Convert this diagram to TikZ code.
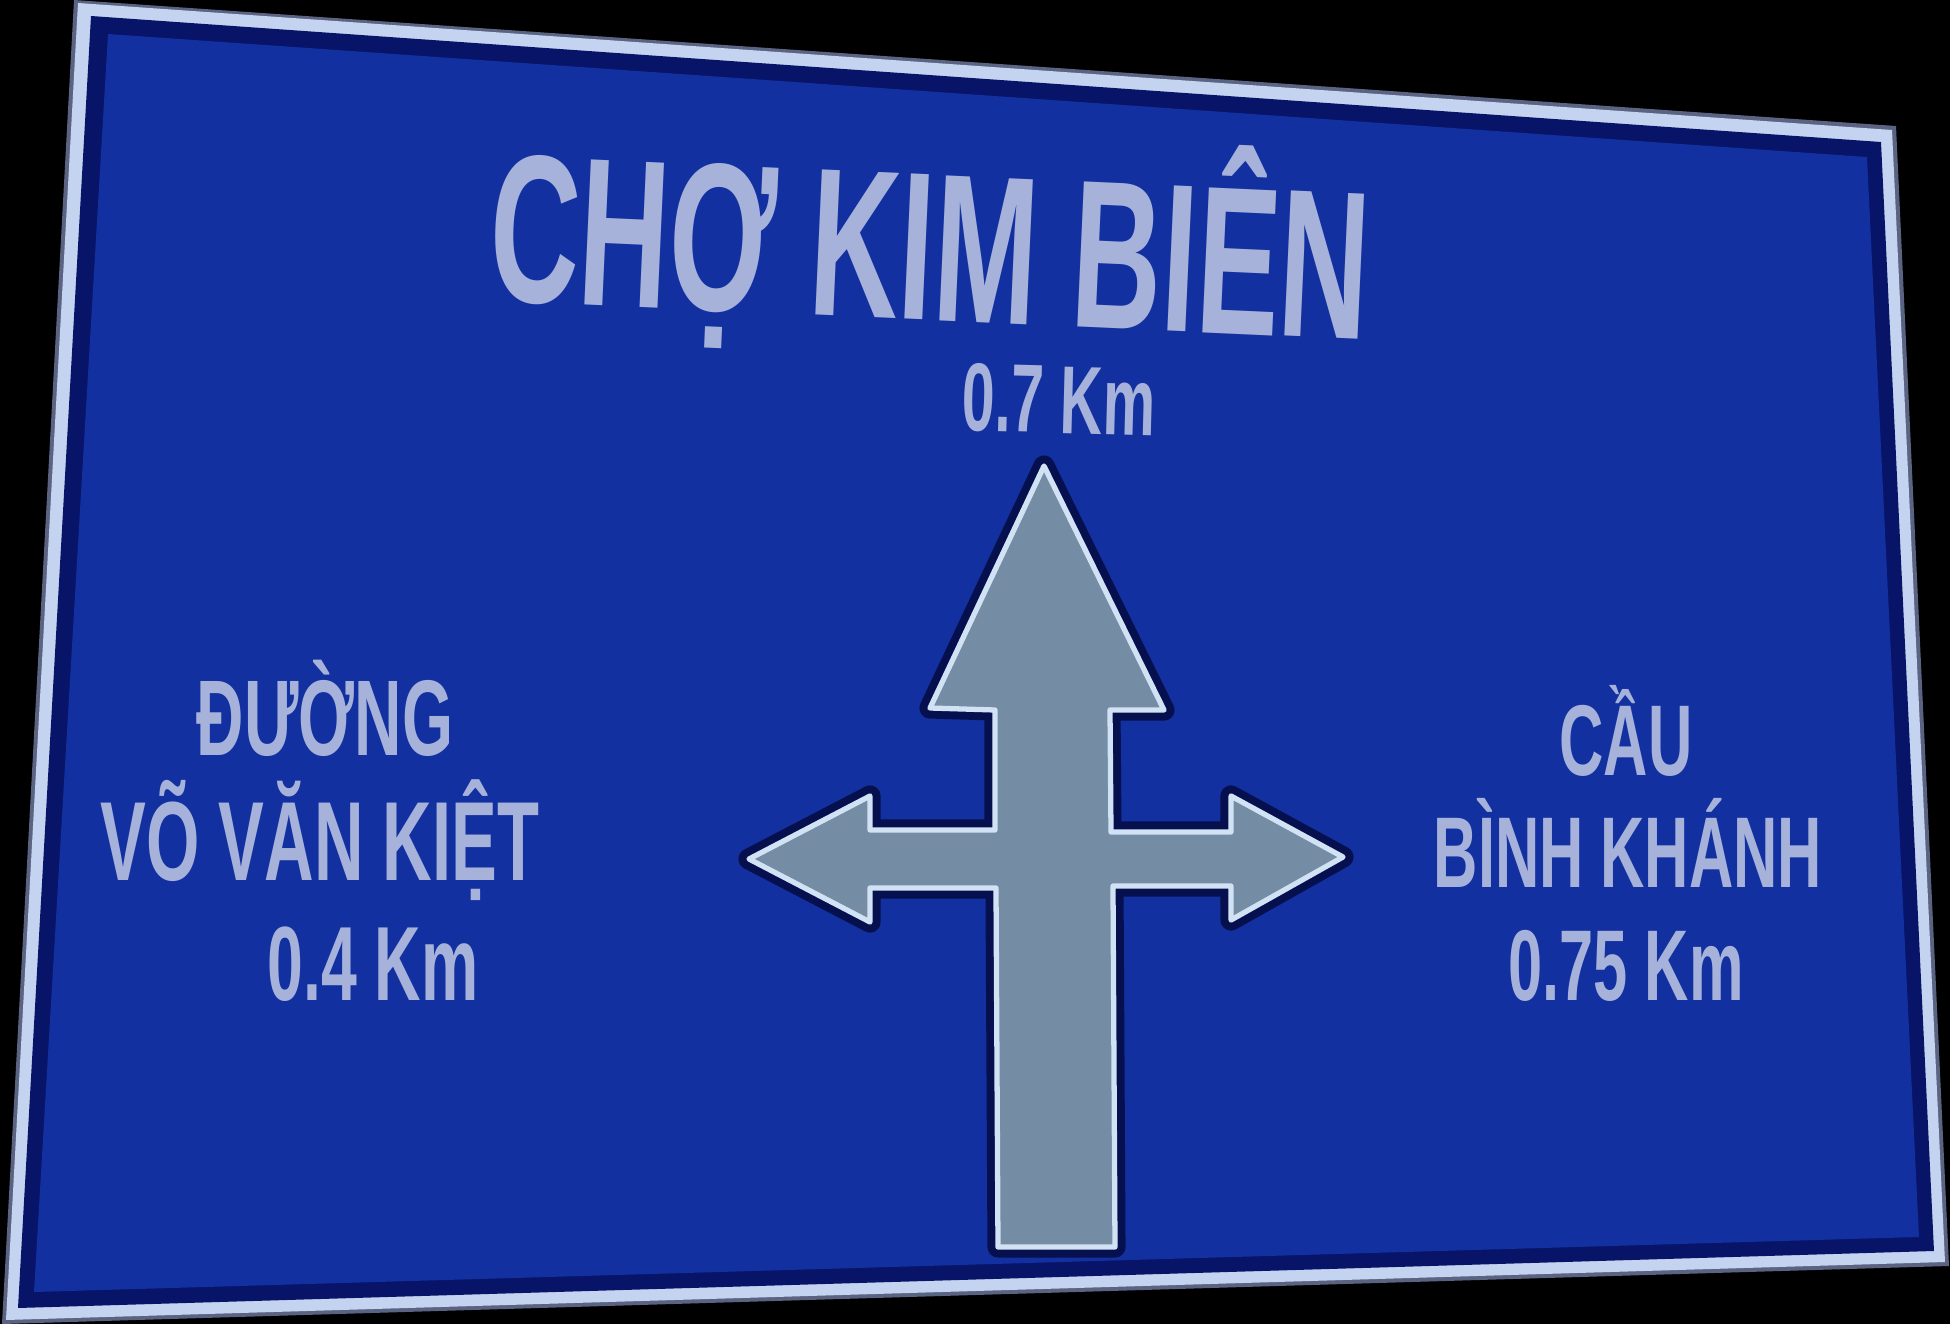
\documentclass[tikz,border=0pt]{standalone}
\usepackage{fontspec}
\newfontfamily\signfont[FakeStretch=0.61]{Liberation Sans}
\newfontfamily\titlefont[FakeStretch=0.59]{Liberation Sans}
\definecolor{signblue}{RGB}{18,48,160}
\definecolor{signnavy}{RGB}{8,20,104}
\definecolor{rimwhite}{RGB}{196,212,240}
\definecolor{rimgrey}{RGB}{90,100,130}
\definecolor{lettercol}{RGB}{166,178,218}
\definecolor{arrowgrey}{RGB}{116,140,164}
\definecolor{arrowrim}{RGB}{210,226,245}
\definecolor{arrowhalo}{RGB}{6,16,78}
\tikzset{
  place/.style={text=lettercol, inner sep=0pt, anchor=base},
  bigname/.style={font=\titlefont\bfseries\fontsize{60}{64}\selectfont},
  midname/.style={font=\signfont\bfseries\fontsize{28.6}{32}\selectfont},
  leftname/.style={font=\signfont\bfseries\fontsize{30.6}{34}\selectfont},
  distname/.style={font=\signfont\bfseries\fontsize{27.5}{30}\selectfont},
  halo/.style={draw=arrowhalo, line width=6pt, line join=round},
  plate/.style={fill=arrowgrey, draw=arrowrim, line width=1.5pt, line join=round}
}
\begin{document}
\begin{tikzpicture}[x=0.01cm,y=-0.01cm]
  \useasboundingbox (0,0) rectangle (1950,1324);
  \fill[black] (0,0) rectangle (1950,1324);
  % sign plate
  \fill[rimgrey] (74,0) -- (1896,126) -- (1949,1266) -- (2,1324) -- cycle;
  \fill[rimwhite] (78,3) -- (1892,130) -- (1945,1262) -- (6,1320) -- cycle;
  \fill[signnavy] (91,16) -- (1881,142) -- (1934,1251) -- (18,1308) -- cycle;
  \fill[signblue] (108,34) -- (1867,157) -- (1919,1237) -- (34,1292) -- cycle;
  % arrow
  \foreach \st in {halo,plate}
    \draw[\st] (1044,466) -- (1164,710) -- (1110,710) -- (1111,832) -- (1231,832)
      -- (1231,796) -- (1343,857) -- (1231,920) -- (1231,886) -- (1113,886)
      -- (1115,1247) -- (998,1247) -- (996,888) -- (870,888) -- (870,922)
      -- (749,859) -- (870,796) -- (870,830) -- (995,830) -- (995,710)
      -- (930,708) -- cycle;
  % texts
  \node[place,bigname,rotate=-2.6] (cho) at (927,320) {\smash{CHỢ KIM BIÊN}};
  \node[place,distname,rotate=-1.5] (kmup) at (1058,433) {0.7 Km};
  \node[place,leftname] (duong) at (325,755) {ĐƯỜNG};
  \node[place,font=\signfont\bfseries\fontsize{32}{36}\selectfont] (vvk) at (320,880) {VÕ VĂN KIỆT};
  \node[place,font=\signfont\bfseries\fontsize{30}{34}\selectfont] (kmleft) at (373,1000) {0.4 Km};
  \node[place,midname] (cau) at (1626,775) {CẦU};
  \node[place,midname] (binh) at (1628,887) {BÌNH KHÁNH};
  \node[place,midname] (kmright) at (1626,1000) {0.75 Km};
\end{tikzpicture}
\end{document}
